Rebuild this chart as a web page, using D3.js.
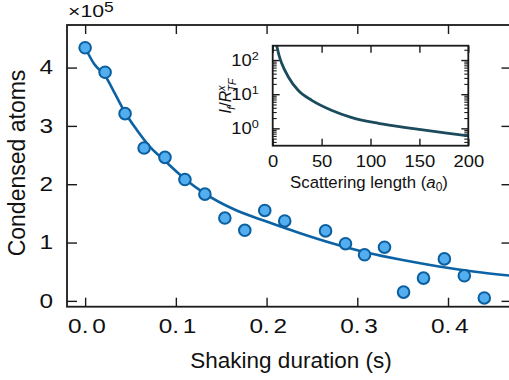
<!DOCTYPE html>
<html><head><meta charset="utf-8">
<script src="https://cdn.jsdelivr.net/npm/d3@7"></script>
<style>
body{margin:0;background:#fff}
svg{display:block}
text{font-family:"Liberation Sans",Arial,Helvetica,sans-serif;fill:#111}
</style>
</head><body>
<svg id="c" width="509" height="380"></svg>
<script>
// ---- data ----
const shakeTimes = [0, 0.022, 0.044, 0.065, 0.088, 0.110, 0.132, 0.154, 0.176, 0.198, 0.220, 0.265, 0.287, 0.308, 0.330, 0.351, 0.373, 0.396, 0.418, 0.440];
const condensed  = [4.34, 3.92, 3.21, 2.62, 2.46, 2.08, 1.83, 1.42, 1.21, 1.55, 1.37, 1.20, 0.98, 0.79, 0.92, 0.15, 0.39, 0.72, 0.43, 0.05];
const fitTimes   = [0, 0.010, 0.022, 0.033, 0.044, 0.057, 0.071, 0.088, 0.110, 0.132, 0.164, 0.200, 0.237, 0.274, 0.310, 0.350, 0.390, 0.430, 0.470];
const fitValues  = [4.34, 4.06, 3.86, 3.55, 3.23, 2.93, 2.65, 2.40, 2.09, 1.84, 1.57, 1.36, 1.16, 0.98, 0.83, 0.70, 0.59, 0.50, 0.43];
const xTickVals  = [0, 0.1, 0.2, 0.3, 0.4];
const yTickVals  = [0, 1, 2, 3, 4];

const scatLen    = [4.1, 6.4, 9.2, 16, 26, 40, 60, 81, 108, 144, 178, 200];
const lfRatio    = [265, 140, 80, 32, 13, 6.6, 3.4, 2.07, 1.40, 0.98, 0.72, 0.60];
const insetXTickVals = [0, 50, 100, 150, 200];
const insetYTickVals = [1, 10, 100];

const svg = d3.select("#c");
const ink = "#1a1a1a";
const STRETCH = 1.25;

// ---- main axes ----
const L = 67, R = 511.5, T = 25, B = 306.7;
const x = d3.scaleLinear().domain([-0.02, 0.47]).range([L, R]);
const y = d3.scaleLinear().domain([-0.1, 4.73]).range([B, T]);

function styleAxis(g){
  g.select(".domain").remove();
  g.selectAll(".tick line").attr("stroke", ink).attr("stroke-width", 1.4);
}

// bottom
const gb = svg.append("g").attr("transform", `translate(0,${B})`)
  .call(d3.axisBottom(x).tickValues(xTickVals).tickSize(-9).tickPadding(12).tickFormat(d3.format(".1f")));
styleAxis(gb);
gb.selectAll(".tick text").attr("font-size", 19.5).attr("fill", ink)
  .attr("transform", `scale(${STRETCH},1)`).attr("x", 1)
  .each(function(d){
    const s = d3.format(".1f")(d).split(".");
    const t = d3.select(this).text(null);
    t.append("tspan").text(s[0] + ".");
    t.append("tspan").attr("dx", 3).text(s[1]);
  });
// top
const gt = svg.append("g").attr("transform", `translate(0,${T})`)
  .call(d3.axisTop(x).tickValues(xTickVals).tickSize(-9).tickFormat(""));
styleAxis(gt);
// left
const gl = svg.append("g").attr("transform", `translate(${L},0)`)
  .call(d3.axisLeft(y).tickValues(yTickVals).tickSize(-10).tickPadding(14).tickFormat(d3.format("d")));
styleAxis(gl);
gl.selectAll(".tick text").attr("font-size", 19.5).attr("fill", ink)
  .attr("x", -14 / STRETCH).attr("transform", `scale(${STRETCH},1)`);
// right
const gr = svg.append("g").attr("transform", `translate(${R},0)`)
  .call(d3.axisRight(y).tickValues(yTickVals).tickSize(-10).tickFormat(""));
styleAxis(gr);

// frame
svg.append("rect").attr("x", L).attr("y", T).attr("width", R - L).attr("height", B - T)
  .attr("fill", "none").attr("stroke", ink).attr("stroke-width", 1.8);

// fit line
const fitData = fitTimes.map((t, i) => [t, fitValues[i]]);
svg.append("path").datum(fitData)
  .attr("d", d3.line().x(d => x(d[0])).y(d => y(d[1])).curve(d3.curveMonotoneX))
  .attr("fill", "none").attr("stroke", "#0b63a5").attr("stroke-width", 2.6);

// points
svg.append("g").selectAll("circle").data(shakeTimes.map((t, i) => [t, condensed[i]]))
  .join("circle").attr("cx", d => x(d[0])).attr("cy", d => y(d[1])).attr("r", 5.8)
  .attr("fill", "#52aeef").attr("stroke", "#0b5f9f").attr("stroke-width", 2);

// multiplier
const mult = svg.append("text").attr("transform", `translate(68,16.7) scale(${STRETCH},1)`)
  .attr("font-size", 17).attr("fill", ink);
mult.append("tspan").text("×10");
mult.append("tspan").attr("font-size", 14).attr("dy", -4.5).text("5");

// axis titles
svg.append("text").attr("x", 291).attr("y", 367.5).attr("text-anchor", "middle")
  .attr("font-size", 22.5).attr("fill", ink).text("Shaking duration (s)");
svg.append("text").attr("transform", "translate(25,163) rotate(-90)").attr("text-anchor", "middle")
  .attr("font-size", 23).attr("fill", ink).text("Condensed atoms");

// ---- inset ----
const iL = 272.7, iR = 468.3, iT = 45.7, iB = 145.7;
const xi = d3.scaleLinear().domain([0, 200]).range([iL, iR]);
const yi = d3.scaleLog().domain([0.31, 263]).range([iB, iT]);

svg.append("rect").attr("x", iL).attr("y", iT).attr("width", iR - iL).attr("height", iB - iT).attr("fill", "#fff");

const minorVals = [];
for (const base of [0.1, 1, 10, 100]) for (let k = 2; k <= 9; k++) {
  const v = +(base * k).toPrecision(3);
  if (v >= 0.31 && v <= 263) minorVals.push(v);
}

function styleInset(g, w){
  g.select(".domain").remove();
  g.selectAll(".tick line").attr("stroke", ink).attr("stroke-width", w);
}
const ib = svg.append("g").attr("transform", `translate(0,${iB})`)
  .call(d3.axisBottom(xi).tickValues(insetXTickVals).tickSize(-7).tickPadding(10).tickFormat(d3.format("d")));
styleInset(ib, 1.4);
ib.selectAll(".tick text").attr("font-size", 16).attr("fill", ink).attr("transform", "scale(1.15,1)");
const it = svg.append("g").attr("transform", `translate(0,${iT})`)
  .call(d3.axisTop(xi).tickValues(insetXTickVals).tickSize(-7).tickFormat(""));
styleInset(it, 1.4);

const il = svg.append("g").attr("transform", `translate(${iL},0)`)
  .call(d3.axisLeft(yi).tickValues(insetYTickVals).tickSize(-7).tickPadding(12).tickFormat(""));
styleInset(il, 1.4);
il.selectAll(".tick").each(function(d){
  const e = Math.round(Math.log10(d));
  const t = d3.select(this).append("text").attr("fill", ink).attr("font-size", 16)
    .attr("text-anchor", "end").attr("x", -14 / 1.15).attr("dy", "0.35em")
    .attr("transform", "scale(1.15,1)");
  t.append("tspan").text("10");
  t.append("tspan").attr("font-size", 11).attr("dy", -6).text(e);
});
const ilm = svg.append("g").attr("transform", `translate(${iL},0)`)
  .call(d3.axisLeft(yi).tickValues(minorVals).tickSize(-4).tickFormat(""));
styleInset(ilm, 1.1);
const ir = svg.append("g").attr("transform", `translate(${iR},0)`)
  .call(d3.axisRight(yi).tickValues(insetYTickVals).tickSize(-7).tickFormat(""));
styleInset(ir, 1.4);
const irm = svg.append("g").attr("transform", `translate(${iR},0)`)
  .call(d3.axisRight(yi).tickValues(minorVals).tickSize(-4).tickFormat(""));
styleInset(irm, 1.1);

svg.append("clipPath").attr("id", "iclip").append("rect")
  .attr("x", iL).attr("y", iT).attr("width", iR - iL).attr("height", iB - iT);
svg.append("path").datum(scatLen.map((a, i) => [a, lfRatio[i]]))
  .attr("clip-path", "url(#iclip)")
  .attr("d", d3.line().x(d => xi(d[0])).y(d => yi(d[1])).curve(d3.curveMonotoneX))
  .attr("fill", "none").attr("stroke", "#1b4b5d").attr("stroke-width", 2.8);

svg.append("rect").attr("x", iL).attr("y", iT).attr("width", iR - iL).attr("height", iB - iT)
  .attr("fill", "none").attr("stroke", ink).attr("stroke-width", 1.8);

// inset titles
const ixt = svg.append("text").attr("x", 369).attr("y", 187.5).attr("text-anchor", "middle")
  .attr("font-size", 16.8).attr("fill", ink);
ixt.append("tspan").text("Scattering length (");
ixt.append("tspan").attr("font-style", "italic").text("a");
ixt.append("tspan").attr("font-size", 12).attr("dy", 3.5).text("0");
ixt.append("tspan").attr("dy", -3.5).text(")");

const iyt = svg.append("text").attr("transform", "translate(231,96) rotate(-90)").attr("text-anchor", "middle")
  .attr("font-size", 16).attr("fill", ink);
iyt.append("tspan").attr("font-style", "italic").text("l");
iyt.append("tspan").attr("font-style", "italic").attr("font-size", 11).attr("dy", 3.5).text("f");
iyt.append("tspan").attr("dy", -3.5).text("/");
iyt.append("tspan").attr("font-style", "italic").text("R");
iyt.append("tspan").attr("font-style", "italic").attr("font-size", 10.5).attr("dy", -6.5).text("x");
iyt.append("tspan").attr("font-style", "italic").attr("font-size", 10.5).attr("dx", -6).attr("dy", 11).text("TF");
</script>
</body></html>
